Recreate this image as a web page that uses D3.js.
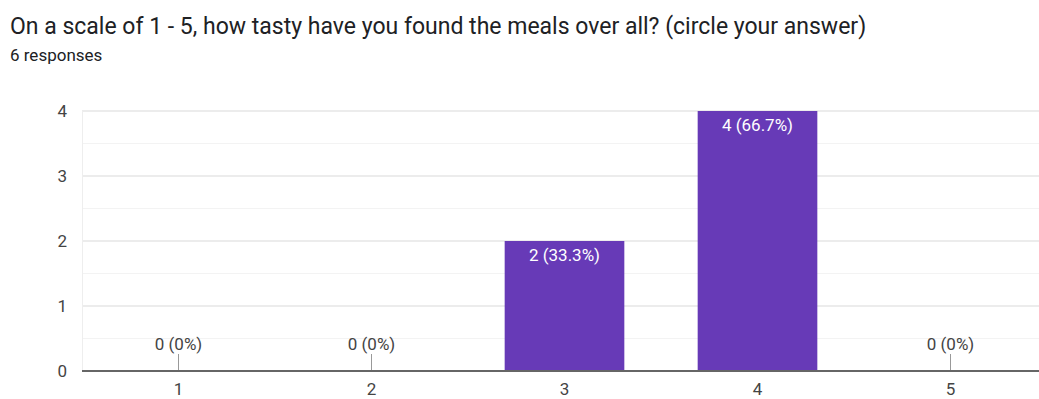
<!DOCTYPE html>
<html>
<head>
<meta charset="utf-8">
<script src="https://cdn.jsdelivr.net/npm/d3@7"></script>
<style>
  body { margin: 0; background: #fff; font-family: Roboto, Arial, sans-serif; }
  svg { display: block; }
</style>
</head>
<body>
<svg width="1039" height="399"></svg>
<script>
// data
var categories = ["1", "2", "3", "4", "5"];
var counts = [0, 0, 2, 4, 0];
var labels = ["0 (0%)", "0 (0%)", "2 (33.3%)", "4 (66.7%)", "0 (0%)"];
var yTicks = [0, 1, 2, 3, 4];

var svg = d3.select("svg");

svg.append("text")
  .attr("x", 10).attr("y", 34)
  .attr("font-size", 23).attr("fill", "#202124")
  .text("On a scale of 1 - 5, how tasty have you found the meals over all? (circle your answer)");

svg.append("text")
  .attr("x", 10).attr("y", 61)
  .attr("font-size", 17).attr("fill", "#202124")
  .text("6 responses");

var margin = {left: 82, top: 111},
    plotW = 965, plotH = 260;

var g = svg.append("g").attr("transform", "translate(" + margin.left + "," + margin.top + ")");

var x = d3.scaleBand().domain(categories).range([0, plotW]).paddingInner(0.38).paddingOuter(0.19);
var y = d3.scaleLinear().domain([0, 4]).range([plotH, 0]);

var data = categories.map(function(c, i) { return {cat: c, n: counts[i], label: labels[i]}; });
function cx(d) { return x(d.cat) + x.bandwidth() / 2; }

// minor grid (half steps)
g.selectAll(".minor")
  .data(d3.range(0.5, 4, 1))
  .enter().append("line")
  .attr("x1", 0).attr("x2", plotW)
  .attr("y1", function(d) { return y(d); }).attr("y2", function(d) { return y(d); })
  .attr("stroke", "#f3f3f3").attr("stroke-width", 1);

// major grid
g.selectAll(".major")
  .data(yTicks.slice(1))
  .enter().append("line")
  .attr("x1", 0).attr("x2", plotW)
  .attr("y1", function(d) { return y(d); }).attr("y2", function(d) { return y(d); })
  .attr("stroke", "#e6e6e6").attr("stroke-width", 1.5);

// left edge line
g.append("line")
  .attr("x1", 0.5).attr("x2", 0.5).attr("y1", 0).attr("y2", plotH)
  .attr("stroke", "#eeeeee");

// y tick labels
g.selectAll(".ylab")
  .data(yTicks)
  .enter().append("text")
  .attr("x", -15).attr("y", function(d) { return y(d); })
  .attr("dy", "0.35em")
  .attr("text-anchor", "end")
  .attr("font-size", 17).attr("fill", "#444")
  .text(function(d) { return d; });

// bars
g.selectAll(".bar")
  .data(data)
  .enter().append("rect")
  .attr("x", function(d) { return x(d.cat); })
  .attr("y", function(d) { return y(d.n); })
  .attr("width", x.bandwidth())
  .attr("height", function(d) { return plotH - y(d.n); })
  .attr("fill", "#673ab7");

// stem for zero bars
g.selectAll(".stem")
  .data(data.filter(function(d) { return d.n === 0; }))
  .enter().append("line")
  .attr("x1", cx).attr("x2", cx)
  .attr("y1", plotH - 17).attr("y2", plotH)
  .attr("stroke", "#999");

// bar labels
g.selectAll(".blab")
  .data(data)
  .enter().append("text")
  .attr("x", cx)
  .attr("y", function(d) { return d.n === 0 ? plotH - 21 : y(d.n) + 20; })
  .attr("text-anchor", "middle")
  .attr("font-size", 17)
  .attr("fill", function(d) { return d.n === 0 ? "#444" : "#fff"; })
  .text(function(d) { return d.label; });

// baseline
g.append("line")
  .attr("x1", 0).attr("x2", plotW).attr("y1", plotH).attr("y2", plotH)
  .attr("stroke", "#666").attr("stroke-width", 2);

// x tick labels
g.selectAll(".xlab")
  .data(data)
  .enter().append("text")
  .attr("x", cx)
  .attr("y", plotH + 24)
  .attr("text-anchor", "middle")
  .attr("font-size", 17).attr("fill", "#444")
  .text(function(d) { return d.cat; });
</script>
</body>
</html>
